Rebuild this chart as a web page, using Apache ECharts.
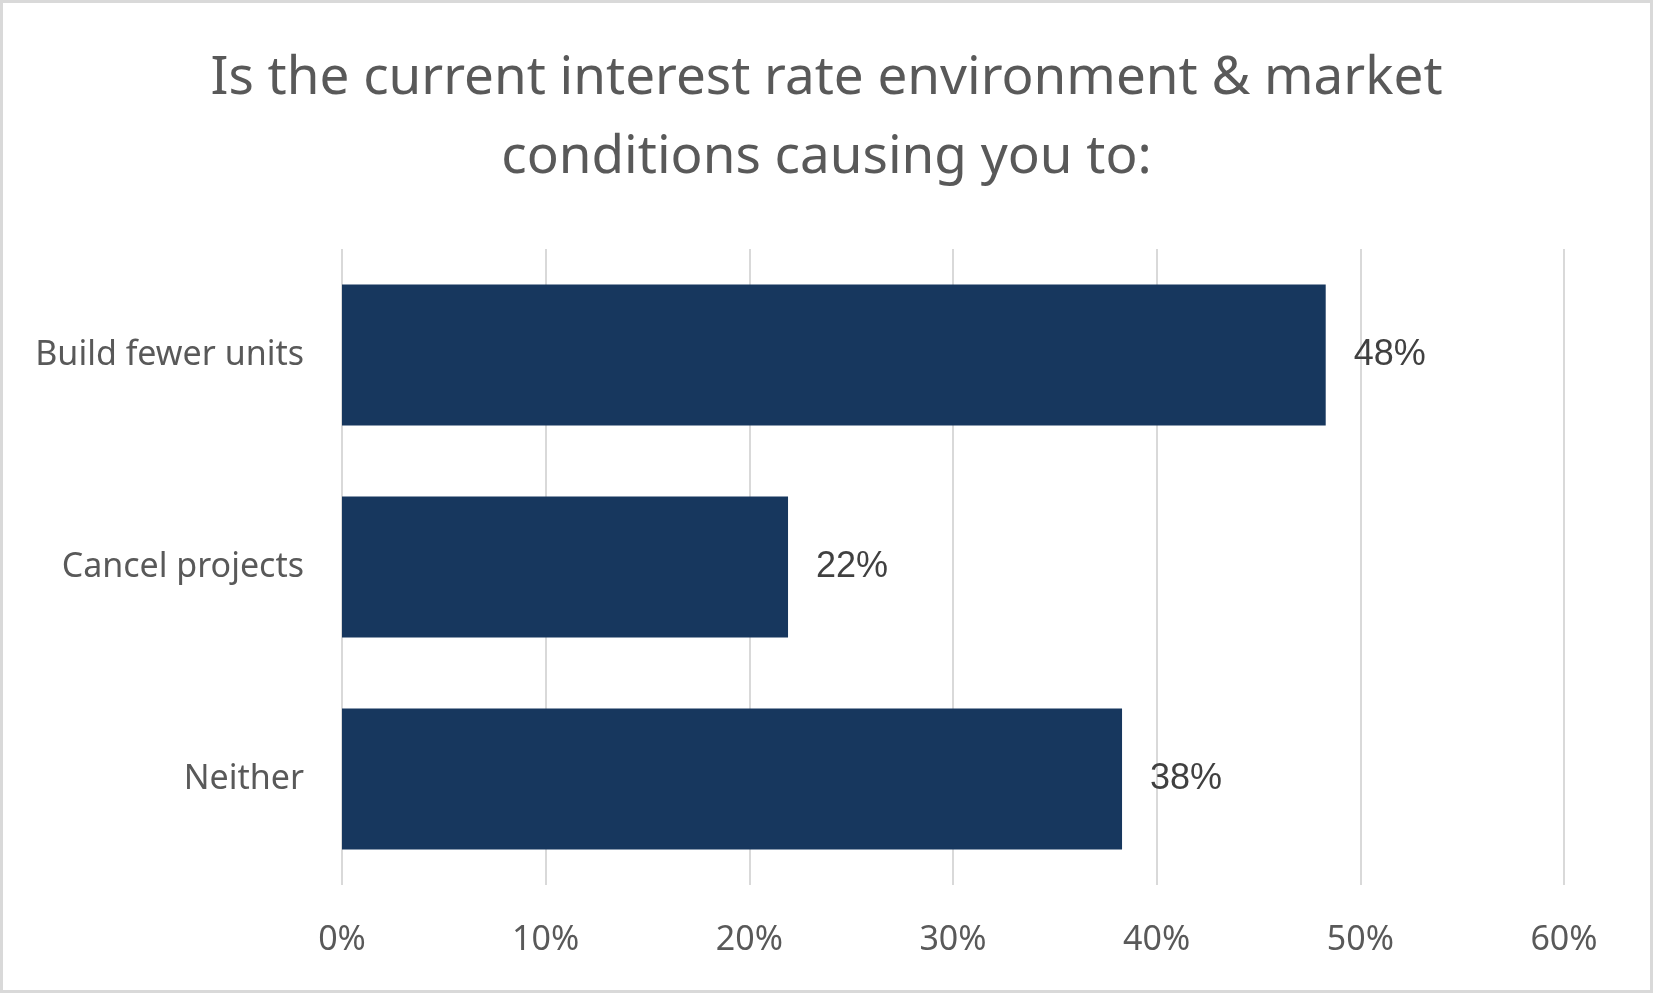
<!DOCTYPE html>
<html>
<head>
<meta charset="utf-8">
<script src="https://cdn.jsdelivr.net/npm/echarts@6/dist/echarts.min.js"></script>
<style>
html,body{margin:0;padding:0;background:#fff;}
#chart{width:1653px;height:993px;box-sizing:border-box;border:3px solid #d9d9d9;}
</style>
</head>
<body>
<div id="chart"></div>
<script>
const titleText = "Is the current interest rate environment & market\nconditions causing you to:";
const categories = ["Build fewer units", "Cancel projects", "Neither"];
const values = [48.3, 21.9, 38.3];
const valueLabels = ["48%", "22%", "38%"];
const axisMin = 0, axisMax = 60, axisInterval = 10;

const chart = echarts.init(document.getElementById('chart'), null, {renderer: 'canvas'});
chart.setOption({
  animation: false,
  backgroundColor: '#ffffff',
  title: {
    text: titleText,
    left: 'center',
    top: 31,
    textStyle: {
      fontFamily: 'Noto Sans',
      fontSize: 53,
      fontWeight: 'normal',
      color: '#595959',
      lineHeight: 79
    }
  },
  grid: {left: 339, right: 86, top: 246, bottom: 105, containLabel: false},
  xAxis: {
    type: 'value',
    min: axisMin, max: axisMax, interval: axisInterval,
    axisLine: {show: false},
    axisTick: {show: false},
    splitLine: {show: true, lineStyle: {color: '#d9d9d9', width: 2}},
    axisLabel: {
      formatter: v => v + '%',
      fontFamily: 'Noto Sans',
      fontSize: 34,
      color: '#595959',
      margin: 38
    }
  },
  yAxis: {
    type: 'category',
    data: categories,
    inverse: true,
    axisLine: {show: false},
    axisTick: {show: false},
    axisLabel: {
      fontFamily: 'Noto Sans',
      fontSize: 34,
      color: '#595959',
      margin: 38,
      padding: [6, 0, 0, 0]
    }
  },
  series: [{
    type: 'bar',
    data: values,
    barCategoryGap: '33.5%',
    itemStyle: {color: '#17375e'},
    label: {
      show: true,
      position: 'right',
      distance: 28,
      padding: [8, 0, 0, 0],
      formatter: p => valueLabels[p.dataIndex],
      fontFamily: 'Liberation Sans',
      fontSize: 36,
      color: '#404040'
    }
  }]
});
</script>
</body>
</html>
